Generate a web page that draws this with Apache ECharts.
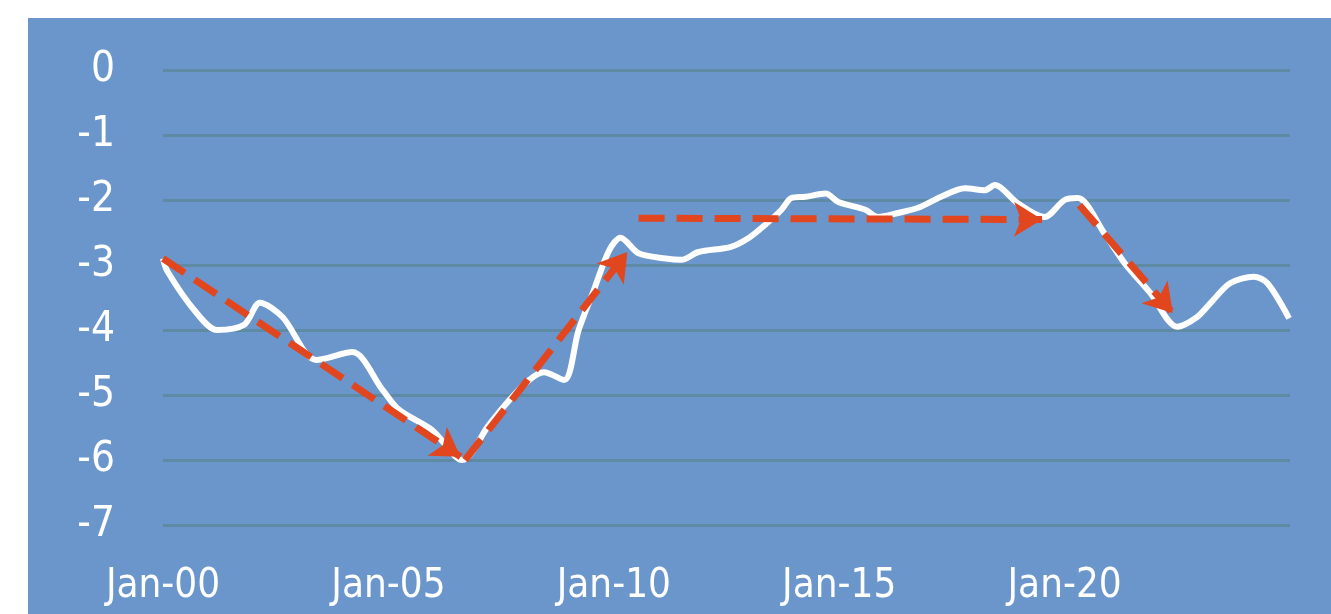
<!DOCTYPE html>
<html>
<head>
<meta charset="utf-8">
<script src="https://cdn.jsdelivr.net/npm/echarts@6/dist/echarts.min.js"></script>
<style>
  html, body { margin:0; padding:0; background:#ffffff; }
  #chart { position:absolute; left:28px; top:18px; width:1303px; height:596px; }
</style>
</head>
<body>
<div id="chart"></div>
<script type="text/javascript">

	// white series: [year fraction, value]
	var years = [2000.0, 2000.1, 2000.7, 2001.2, 2001.8, 2002.15, 2002.65, 2003.4, 2004.2, 2004.87, 2005.24, 2005.97, 2006.64,
		2007.23, 2007.68, 2008.12, 2008.45, 2008.9, 2009.22, 2009.56, 2009.9, 2010.15, 2010.55, 2011.15, 2011.5, 2011.88,
		2012.6, 2013.0, 2013.36, 2013.72, 2013.94, 2014.25, 2014.7, 2014.98, 2015.58, 2015.86, 2016.3, 2016.75, 2017.26,
		2017.79, 2018.23, 2018.45, 2018.96, 2019.55, 2020.0, 2020.29, 2020.88, 2021.33, 2021.9, 2022.5, 2022.94, 2023.23,
		2023.67, 2024.2, 2024.5, 2024.98];
	var values = [-2.9, -3.1, -3.7, -4.0, -3.92, -3.58, -3.8, -4.46, -4.34, -4.92, -5.23, -5.54, -6.0,
		-5.46, -5.08, -4.77, -4.65, -4.77, -4.0, -3.38, -2.77, -2.58, -2.82, -2.9, -2.92, -2.8,
		-2.72, -2.58, -2.38, -2.15, -1.97, -1.95, -1.9, -2.03, -2.15, -2.26, -2.2, -2.12, -1.95,
		-1.82, -1.85, -1.77, -2.05, -2.26, -2.0, -1.97, -2.51, -2.97, -3.43, -3.95, -3.8, -3.59,
		-3.28, -3.18, -3.28, -3.82];

	// dashed trend arrows: start/end year and value
	var arrowX1 = [2000.0, 2006.7, 2010.55, 2020.33];
	var arrowY1 = [-2.9, -6.0, -2.28, -2.08];
	var arrowX2 = [2006.6, 2010.3, 2019.5, 2022.4];
	var arrowY2 = [-5.95, -2.8, -2.3, -3.74];

	var yTicks = [0, -1, -2, -3, -4, -5, -6, -7];

	var lineData = [];
	for (var i = 0; i < years.length; i++) {
		lineData.push([years[i], values[i]]);
	}
	var arrows = [];
	for (var j = 0; j < arrowX1.length; j++) {
		arrows.push([{coord: [arrowX1[j], arrowY1[j]]}, {coord: [arrowX2[j], arrowY2[j]]}]);
	}

	var font = "'DejaVu Sans Condensed', 'Liberation Sans Narrow', sans-serif";

	var chart = echarts.init(document.getElementById('chart'));
	chart.setOption({
		backgroundColor: '#6b96cc',
		animation: false,
		grid: { left: 135, right: 41, top: 52, bottom: 89 },
		xAxis: {
			type: 'value',
			min: 2000,
			max: 2025,
			interval: 5,
			axisLine: { show: false },
			axisTick: { show: false },
			splitLine: { show: false },
			axisLabel: {
				color: '#ffffff',
				fontFamily: font,
				fontSize: 40,
				margin: 42,
				showMaxLabel: false,
				formatter: function (v) {
					var y = String(Math.round(v) - 2000);
					return 'Jan-' + (y.length < 2 ? '0' + y : y);
				}
			}
		},
		yAxis: {
			type: 'value',
			min: yTicks[yTicks.length - 1],
			max: yTicks[0],
			interval: 1,
			axisLine: { show: false },
			axisTick: { show: false },
			splitLine: { lineStyle: { color: '#5f8aa3', width: 3 } },
			axisLabel: {
				color: '#ffffff',
				fontFamily: font,
				fontSize: 42,
				margin: 48
			}
		},
		series: [
			{
				type: 'line',
				data: lineData,
				symbol: 'none',
				smooth: 0.3,
				lineStyle: { color: '#ffffff', width: 6 },
				z: 3
			},
			{
				type: 'line',
				data: [],
				z: 4,
				markLine: {
					silent: true,
					symbol: ['none', 'arrow'],
					symbolSize: [26, 28],
					label: { show: false },
					lineStyle: { color: '#e2461e', width: 7, type: [26, 12], opacity: 1 },
					data: arrows
				}
			}
		]
	});

</script>
</body>
</html>
